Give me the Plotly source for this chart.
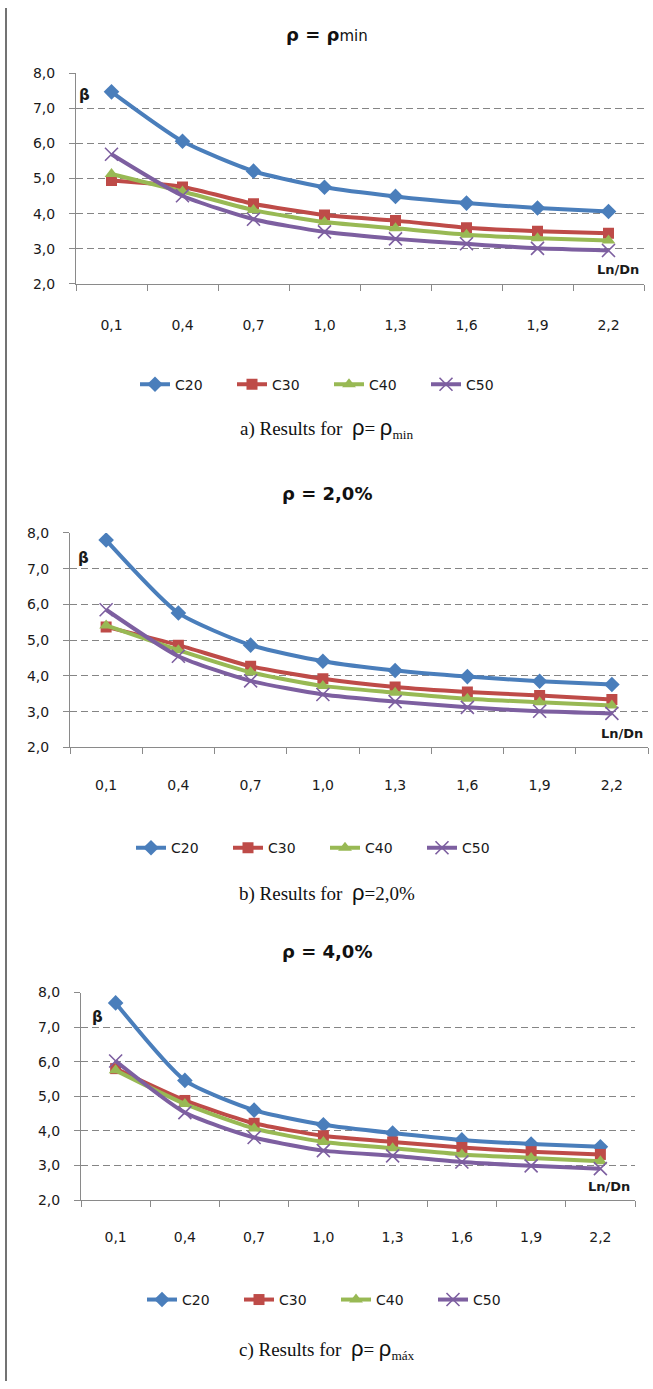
import plotly.graph_objects as go

W, H = 653, 1389

# Ln/Dn categories shared by the three panels
ln_dn = ["0,1", "0,4", "0,7", "1,0", "1,3", "1,6", "1,9", "2,2"]
series_names = ["C20", "C30", "C40", "C50"]

# a) rho = rho_min
a_c20 = [7.47, 6.06, 5.21, 4.75, 4.49, 4.30, 4.16, 4.06]
a_c30 = [4.94, 4.76, 4.28, 3.96, 3.80, 3.60, 3.50, 3.44]
a_c40 = [5.13, 4.63, 4.10, 3.76, 3.58, 3.40, 3.30, 3.23]
a_c50 = [5.69, 4.51, 3.84, 3.48, 3.28, 3.14, 3.01, 2.95]

# b) rho = 2,0%
b_c20 = [7.80, 5.76, 4.86, 4.41, 4.15, 3.98, 3.85, 3.76]
b_c30 = [5.37, 4.86, 4.27, 3.92, 3.69, 3.55, 3.45, 3.34]
b_c40 = [5.41, 4.72, 4.10, 3.72, 3.53, 3.36, 3.26, 3.17]
b_c50 = [5.85, 4.55, 3.86, 3.48, 3.28, 3.12, 3.01, 2.95]

# c) rho = rho_max (4,0%)
c_c20 = [7.70, 5.46, 4.60, 4.18, 3.94, 3.74, 3.62, 3.54]
c_c30 = [5.80, 4.88, 4.22, 3.86, 3.68, 3.52, 3.40, 3.32]
c_c40 = [5.75, 4.78, 4.07, 3.68, 3.50, 3.32, 3.22, 3.12]
c_c50 = [6.02, 4.53, 3.81, 3.43, 3.28, 3.10, 2.99, 2.91]

y_ticks = [2, 3, 4, 5, 6, 7, 8]

colors = ["#4A7EBB", "#BE4B48", "#98B954", "#7D5FA0"]
markers = [
    dict(symbol="diamond", size=12),
    dict(symbol="square", size=11),
    dict(symbol="triangle-up", size=12),
    dict(symbol="x-thin", size=13, line=dict(width=1.6)),
]

def px_x(x):
    return x / W

def px_y(y):
    return 1 - y / H

RHO = "<span style='font-family:Liberation Sans;font-size:22px'>ρ</span>"

# panel geometry in pixels: (left, right, top, bottom), label positions
panels = [
    dict(data=[a_c20, a_c30, a_c40, a_c50], box=(76, 644, 66, 279),
         title="<b>ρ = ρ</b><span style='font-size:15px'>min</span>", title_y=27,
         beta=(84, 88), legend_y=381, legend_x=329, caption_y=425, xstand=28,
         caption="a) Results for  " + RHO + "= " + RHO + "<sub>min</sub>"),
    dict(data=[b_c20, b_c30, b_c40, b_c50], box=(70, 648, 531, 748),
         title="<b>ρ = 2,0%</b>", title_y=491,
         beta=(83, 556), legend_y=850, legend_x=325, caption_y=895, xstand=25,
         caption="b) Results for  " + RHO + "=2,0%"),
    dict(data=[c_c20, c_c30, c_c40, c_c50], box=(81, 635, 996, 1206),
         title="<b>ρ = 4,0%</b>", title_y=955,
         beta=(97, 1021), legend_y=1307, legend_x=336, caption_y=1357, xstand=24,
         caption="c) Results for  " + RHO + "= " + RHO + "<sub>máx</sub>"),
]

fig = go.Figure()
layout = dict(
    width=W, height=H, margin=dict(l=0, r=0, t=0, b=0),
    paper_bgcolor="white", plot_bgcolor="white",
    separators=",.", showlegend=True,
    font=dict(family="DejaVu Sans", color="#1a1a1a"),
    annotations=[], shapes=[],
)

tick_font = dict(family="DejaVu Sans", size=14, color="#1a1a1a")
axis_col = "#8a8a8a"

for i, p in enumerate(panels):
    n = "" if i == 0 else str(i + 1)
    xa, ya = "x" + n, "y" + n
    leg = "legend" + n
    l, r, t, b = p["box"]
    for k, (name, vals) in enumerate(zip(series_names, p["data"])):
        mk = dict(markers[k])
        mk["color"] = colors[k]
        if "line" in mk:
            mk["line"] = dict(mk["line"], color=colors[k])
        fig.add_trace(go.Scatter(
            x=ln_dn, y=vals, name=name, mode="lines+markers",
            line=dict(color=colors[k], width=4, shape="spline", smoothing=0.6),
            marker=mk, xaxis=xa, yaxis=ya, legend=leg,
        ))
    layout["xaxis" + n] = dict(
        domain=[px_x(l), px_x(r)], anchor=ya, type="category",
        categoryorder="array", categoryarray=ln_dn,
        range=[-0.5, 7.5], tickson="boundaries",
        showgrid=False, zeroline=False, showline=True,
        linecolor=axis_col, linewidth=1,
        ticks="outside", ticklen=6, tickcolor=axis_col,
        tickfont=tick_font, ticklabelstandoff=p["xstand"],
    )
    layout["yaxis" + n] = dict(
        domain=[px_y(b), px_y(t)], anchor=xa, range=[2, 8],
        tickvals=y_ticks, tickformat=".1f",
        showgrid=True, gridcolor="#858585", gridwidth=1.2, griddash="7px,4px",
        zeroline=False, showline=True, linecolor=axis_col, linewidth=1,
        ticks="outside", ticklen=6, tickcolor=axis_col,
        tickfont=tick_font, ticklabelstandoff=11,
    )
    layout[leg] = dict(
        orientation="h", x=px_x(p["legend_x"]), xanchor="center",
        y=px_y(p["legend_y"]), yanchor="middle",
        font=dict(family="DejaVu Sans", size=14, color="#1a1a1a"),
        bgcolor="rgba(0,0,0,0)", itemwidth=30, tracegroupgap=0,
        entrywidth=52, entrywidthmode="pixels",
    )
    # chart title
    layout["annotations"].append(dict(
        text=p["title"], x=px_x(327), y=px_y(p["title_y"]),
        xref="paper", yref="paper", showarrow=False,
        xanchor="center", yanchor="middle",
        font=dict(family="DejaVu Sans", size=18, color="#111111"),
    ))
    # beta axis label
    bx, by = p["beta"]
    layout["annotations"].append(dict(
        text="<b>β</b>", x=px_x(bx), y=px_y(by), xref="paper", yref="paper",
        showarrow=False, xanchor="center", yanchor="middle",
        font=dict(family="DejaVu Sans", size=15, color="#1a1a1a"),
    ))
    # Ln/Dn axis label
    layout["annotations"].append(dict(
        text="<b>Ln/Dn</b>", x=0.995, y=2.4, xref=xa + " domain", yref=ya,
        showarrow=False, xanchor="right", yanchor="middle",
        font=dict(family="DejaVu Sans", size=13, color="#1a1a1a"),
    ))
    # caption below the chart
    layout["annotations"].append(dict(
        text=p["caption"], x=px_x(327), y=px_y(p["caption_y"]),
        xref="paper", yref="paper", showarrow=False,
        xanchor="center", yanchor="middle",
        font=dict(family="Liberation Serif", size=19, color="#111111"),
    ))

# left frame rule
layout["shapes"].append(dict(
    type="line", xref="paper", yref="paper",
    x0=px_x(6), x1=px_x(6), y0=0, y1=1,
    line=dict(color="#444444", width=1.5),
))

fig.update_layout(**layout)
fig.write_html("out.html")
